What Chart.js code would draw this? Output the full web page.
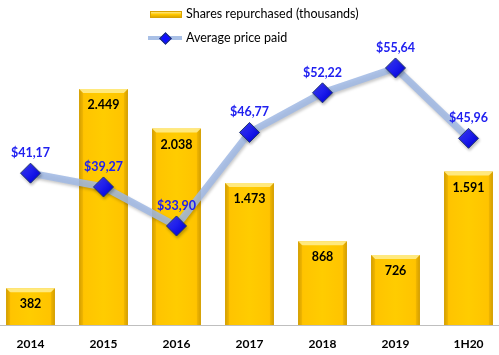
<!DOCTYPE html>
<html>
<head>
<meta charset="utf-8">
<script src="https://cdn.jsdelivr.net/npm/chart.js@4/dist/chart.umd.min.js"></script>
<style>
  html, body { margin:0; padding:0; background:#fff; overflow:hidden; width:499px; height:355px; }
  #wrap { position:absolute; left:-6px; top:0; width:511px; height:355px; }
  .leg { position:absolute; font-family: Lato, "Open Sans", sans-serif; font-size:12.5px; color:#000; white-space:nowrap; }
  .sw-bar { position:absolute; left:150px; top:11px; width:32px; height:7px;
    background: linear-gradient(to bottom, #FFE680 0%, #FFC800 50%, #E0A800 100%); border:1px solid #D9A300; box-sizing:border-box; }
  .sw-line { position:absolute; left:148px; top:36px; width:34px; height:4px; background:#A9C0E6; }
  .sw-dia { position:absolute; left:161px; top:34px; width:7px; height:7px; background:#1010FF; transform:rotate(45deg); border:1px solid #203864; }
</style>
</head>
<body>
<div id="wrap"><canvas id="c"></canvas></div>
<div class="sw-bar"></div>
<div class="leg" style="left:186px; top:6px;">Shares repurchased (thousands)</div>
<div class="sw-line"></div>
<div class="sw-dia"></div>
<div class="leg" style="left:186px; top:30px;">Average price paid</div>
<script>
const categories = ['2014', '2015', '2016', '2017', '2018', '2019', '1H20'];
const sharesRepurchased = [382, 2449, 2038, 1473, 868, 726, 1591];
const averagePrice = [41.17, 39.27, 33.90, 46.77, 52.22, 55.64, 45.96];
const seriesNames = ['Shares repurchased (thousands)', 'Average price paid'];

function fmtShares(v) {
  const s = String(v);
  return s.length > 3 ? s.slice(0, s.length - 3) + '.' + s.slice(s.length - 3) : s;
}
function fmtPrice(v) {
  return '$' + v.toFixed(2).replace('.', ',');
}

const BAR_PCT = 0.67;

function barGradient(c) {
  const chart = c.chart;
  const xs = chart.scales && chart.scales.x;
  if (!chart.chartArea || !xs || c.type !== 'data') return '#FFC800';
  const x = xs.getPixelForValue(c.dataIndex);
  const hw = (xs.width / categories.length) * BAR_PCT / 2;
  const g = chart.ctx.createLinearGradient(x - hw, 0, x + hw, 0);
  g.addColorStop(0, '#D8A200');
  g.addColorStop(0.07, '#FFC300');
  g.addColorStop(0.5, '#FFCC00');
  g.addColorStop(0.93, '#FFC300');
  g.addColorStop(1, '#D8A200');
  return g;
}

function pointGradient(c) {
  const chart = c.chart;
  if (!chart.chartArea || c.type !== 'data') return '#0A0AFF';
  const xs = chart.scales.x, ys = chart.scales.y1;
  const x = xs.getPixelForValue(c.dataIndex);
  const y = ys.getPixelForValue(averagePrice[c.dataIndex]);
  const g = chart.ctx.createLinearGradient(x - 8, y - 8, x + 8, y + 8);
  g.addColorStop(0, '#3A3AFF');
  g.addColorStop(1, '#0000D8');
  return g;
}

const decorPlugin = {
  id: 'decor',
  afterDatasetDraw(chart, args) {
    const ctx = chart.ctx;
    if (args.index === 0) {
      const meta = chart.getDatasetMeta(0);
      meta.data.forEach(el => {
        const l = el.x - el.width / 2, r = el.x + el.width / 2, t = el.y, b = el.base;
        const bv = 4;
        ctx.save();
        ctx.fillStyle = 'rgba(255,236,140,0.9)';
        ctx.beginPath();
        ctx.moveTo(l, t); ctx.lineTo(r, t); ctx.lineTo(r - bv, t + bv); ctx.lineTo(l + bv, t + bv); ctx.closePath();
        ctx.fill();
        ctx.fillStyle = 'rgba(200,150,0,0.35)';
        ctx.beginPath();
        ctx.moveTo(l, t); ctx.lineTo(l + bv, t + bv); ctx.lineTo(l + bv, b); ctx.lineTo(l, b); ctx.closePath();
        ctx.fill();
        ctx.beginPath();
        ctx.moveTo(r, t); ctx.lineTo(r - bv, t + bv); ctx.lineTo(r - bv, b); ctx.lineTo(r, b); ctx.closePath();
        ctx.fill();
        ctx.restore();
      });
    }
  },
  beforeDatasetDraw(chart, args) {
    if (args.index === 1) {
      chart.ctx.save();
      chart.ctx.shadowColor = 'rgba(0,0,0,0.25)';
      chart.ctx.shadowBlur = 3;
      chart.ctx.shadowOffsetX = 1;
      chart.ctx.shadowOffsetY = 2;
    }
  },
  afterDatasetsDraw(chart) {
    const ctx = chart.ctx;
    ctx.save();
    ctx.shadowColor = 'transparent';
    ctx.textAlign = 'center';
    ctx.textBaseline = 'middle';
    ctx.font = 'bold 12.5px Lato, "Open Sans", sans-serif';
    ctx.fillStyle = '#000';
    chart.getDatasetMeta(0).data.forEach((el, i) => {
      ctx.fillText(fmtShares(sharesRepurchased[i]), el.x, el.y + 16);
    });
    ctx.fillStyle = '#2020F0';
    chart.getDatasetMeta(1).data.forEach((el, i) => {
      ctx.fillText(fmtPrice(averagePrice[i]), el.x, el.y - 20);
    });
    ctx.restore();
  }
};

const restorePlugin = {
  id: 'restoreShadow',
  afterDatasetDraw(chart, args) {
    if (args.index === 1) chart.ctx.restore();
  }
};

new Chart(document.getElementById('c'), {
  data: {
    labels: categories,
    datasets: [
      {
        type: 'bar',
        label: seriesNames[0],
        data: sharesRepurchased,
        yAxisID: 'y',
        backgroundColor: barGradient,
        borderWidth: 0,
        barPercentage: BAR_PCT,
        categoryPercentage: 1,
        order: 1
      },
      {
        type: 'line',
        label: seriesNames[1],
        data: averagePrice,
        yAxisID: 'y1',
        borderColor: 'rgba(160,185,228,0.85)',
        borderWidth: 7,
        tension: 0,
        pointStyle: 'rectRot',
        pointRadius: 10,
        pointHoverRadius: 10,
        pointBackgroundColor: pointGradient,
        pointBorderColor: '#1F3470',
        pointBorderWidth: 1,
        order: 0
      }
    ]
  },
  options: {
    responsive: true,
    maintainAspectRatio: false,
    animation: false,
    layout: { padding: 0, autoPadding: false },
    plugins: { legend: { display: false }, tooltip: { enabled: false } },
    scales: {
      x: {
        offset: true,
        grid: { display: false, drawTicks: false },
        border: { display: true, color: '#BFBFBF', width: 1 },
        ticks: { color: '#000', font: { family: 'Lato, "Open Sans", sans-serif', size: 12, weight: 'bold' }, padding: 12, maxRotation: 0 },
        afterFit(s) { s.height = 30; }
      },
      y: { display: false, min: 0, max: 3371 },
      y1: { display: false, min: 20.28, max: 64.99, position: 'right' }
    }
  },
  plugins: [decorPlugin, restorePlugin]
});
</script>
</body>
</html>
